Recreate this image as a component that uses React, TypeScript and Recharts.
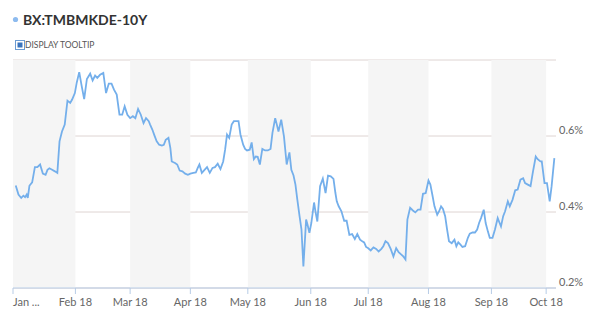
import React from "react";
import {
  LineChart,
  Line,
  XAxis,
  YAxis,
  CartesianGrid,
  ReferenceArea,
} from "recharts";

// x = trading-day index from Jan 2 2018, y = 10Y yield (%)
const tradingDay = [
  0.2, 1.2, 2.2, 3.0, 3.6, 4.2, 4.6, 5.2, 6.2, 7.2, 8.1, 9.1, 10.1, 11.1, 11.8, 12.5, 13.5, 14.5, 15.4, 16.2,
  17.1, 18.1, 19.1, 20.1, 20.8, 21.8, 22.5, 23.4, 24.2, 25.2, 26.2, 27.4, 28.3, 29.2, 30.0, 31.0, 32.2, 33.2,
  34.2, 35.2, 36.1, 37.1, 38.1, 39.1, 40.0, 41.0, 42.0, 43.0, 43.9, 44.9, 45.9, 46.9, 47.8, 48.8, 49.3, 50.1,
  50.9, 51.7, 52.6, 53.6, 54.3, 55.0, 56.0, 56.7, 57.2, 58.4, 59.2, 60.1, 61.1, 62.1, 63.1, 64.0, 65.1, 66.0,
  66.7, 67.3, 68.2, 69.1, 70.1, 71.1, 72.1, 73.0, 74.0, 75.0, 76.0, 76.7, 77.4, 78.2, 79.1, 79.9, 80.8, 81.6,
  82.3, 83.3, 84.0, 84.7, 85.7, 86.4, 87.2, 87.9, 88.6, 89.4, 90.3, 91.3, 92.3, 93.3, 94.0, 95.0, 95.6, 96.2,
  97.2, 98.2, 99.2, 100.2, 100.9, 101.7, 102.4, 103.1, 103.9, 104.6, 105.3, 106.3, 106.8, 107.5, 108.2, 109.2,
  109.7, 110.4, 111.4, 112.4, 113.4, 114.3, 115.3, 116.3, 117.0, 117.5, 118.2, 119.2, 120.2, 121.1, 122.1, 123.1,
  124.1, 125.0, 126.0, 126.8, 127.5, 128.2, 128.9, 129.9, 130.9, 131.9, 132.8, 133.8, 134.5, 135.3, 136.2, 137.2,
  138.2, 139.2, 140.1, 141.1, 141.8, 142.6, 143.3, 144.3, 145.3, 146.2, 147.2, 148.1, 149.0, 150.0, 151.0, 151.7,
  152.4, 153.2, 154.2, 154.9, 155.6, 156.3, 157.1, 157.8, 158.5, 159.5, 160.5, 161.2, 161.9, 162.7, 163.4, 164.4,
  165.4, 166.1, 167.1, 168.0, 168.8, 169.5, 170.2, 171.2, 171.9, 172.7, 173.4, 174.4, 175.3, 176.3, 177.0, 177.5,
  178.3, 179.0, 180.0, 180.7, 181.7, 182.7, 183.6, 184.6, 185.6, 186.3, 187.3, 188.3, 189.2, 190.2, 190.9, 191.9,
  192.4, 193.4, 194.3, 195.3, 196.0, 197.0,
];

const yieldPct = [
  0.470, 0.446, 0.437, 0.443, 0.439, 0.446, 0.437, 0.469, 0.478, 0.518, 0.518, 0.525, 0.501, 0.498, 0.511, 0.515,
  0.511, 0.507, 0.503, 0.586, 0.612, 0.630, 0.693, 0.687, 0.696, 0.713, 0.741, 0.768, 0.735, 0.697, 0.750, 0.764,
  0.746, 0.759, 0.753, 0.761, 0.766, 0.713, 0.738, 0.738, 0.722, 0.709, 0.656, 0.656, 0.678, 0.656, 0.647, 0.652,
  0.647, 0.671, 0.656, 0.634, 0.647, 0.639, 0.630, 0.617, 0.601, 0.586, 0.577, 0.575, 0.577, 0.590, 0.595, 0.568,
  0.533, 0.529, 0.525, 0.509, 0.507, 0.501, 0.498, 0.501, 0.503, 0.504, 0.516, 0.525, 0.503, 0.510, 0.518, 0.503,
  0.516, 0.518, 0.527, 0.513, 0.533, 0.564, 0.604, 0.595, 0.630, 0.639, 0.639, 0.639, 0.604, 0.577, 0.566, 0.562,
  0.564, 0.583, 0.539, 0.546, 0.545, 0.525, 0.566, 0.562, 0.562, 0.566, 0.608, 0.647, 0.630, 0.612, 0.643, 0.599,
  0.525, 0.557, 0.511, 0.496, 0.472, 0.432, 0.389, 0.354, 0.257, 0.380, 0.367, 0.345, 0.371, 0.425, 0.402, 0.375,
  0.468, 0.488, 0.450, 0.496, 0.494, 0.487, 0.450, 0.428, 0.415, 0.402, 0.377, 0.377, 0.340, 0.342, 0.329, 0.342,
  0.327, 0.323, 0.320, 0.308, 0.305, 0.299, 0.307, 0.303, 0.296, 0.303, 0.310, 0.323, 0.318, 0.303, 0.283, 0.305,
  0.294, 0.288, 0.283, 0.275, 0.380, 0.411, 0.404, 0.399, 0.406, 0.406, 0.448, 0.450, 0.483, 0.472, 0.446, 0.415,
  0.393, 0.402, 0.415, 0.408, 0.389, 0.354, 0.323, 0.318, 0.327, 0.310, 0.320, 0.314, 0.308, 0.310, 0.332, 0.343,
  0.346, 0.346, 0.354, 0.371, 0.384, 0.406, 0.371, 0.349, 0.332, 0.332, 0.354, 0.384, 0.371, 0.362, 0.389, 0.402,
  0.428, 0.415, 0.432, 0.457, 0.459, 0.485, 0.489, 0.476, 0.472, 0.468, 0.507, 0.546, 0.539, 0.533, 0.533, 0.476,
  0.476, 0.428, 0.468, 0.542,
];

const monthTicks = [-0.8, 22, 42, 64, 85, 108, 129, 151, 174, 194];
const monthLabels = ["Jan ...", "Feb 18", "Mar 18", "Apr 18", "May 18", "Jun 18", "Jul 18", "Aug 18", "Sep 18", "Oct 18"];
const shadedMonths: [number, number][] = [
  [-0.8, 22],
  [42, 64],
  [85, 108],
  [129, 151],
  [174, 194],
];
const yTicks = [0.2, 0.4, 0.6, 0.8];
const yLabels = ["0.2%", "0.4%", "0.6%", ""];
const seriesName = "BX:TMBMKDE-10Y";
const legendLabel = "DISPLAY TOOLTIP";

const data = tradingDay.map((d, i) => ({ d, v: yieldPct[i] }));

const FONT = "Lato, 'Open Sans', sans-serif";
const LINE = "#74afeb";
const AXIS = "#b7cce6";
const GRID = "#ded4d2";
const BAND = "#f5f5f5";

const XTick = (props: any) => {
  const { x, y, payload, index } = props;
  const i = monthTicks.indexOf(payload.value);
  return (
    <text
      x={x}
      y={y + 10}
      textAnchor={index === 0 ? "start" : "middle"}
      fontSize={11}
      fontFamily={FONT}
      fill="#666"
    >
      {monthLabels[i >= 0 ? i : index]}
    </text>
  );
};

const YTick = (props: any) => {
  const { x, y, payload } = props;
  const i = yTicks.indexOf(payload.value);
  return (
    <text x={x + 3} y={y - 2} textAnchor="start" fontSize={11} fontFamily={FONT} fill="#666">
      {yLabels[i]}
    </text>
  );
};

export default function App() {
  return (
    <div style={{ position: "absolute", left: 0, top: 0, width: 600, height: 325, background: "#fff" }}>
      <svg width={600} height={60} style={{ position: "absolute", left: 0, top: 0 }}>
        <circle cx={15.5} cy={19.5} r={2.6} fill="#8dbbef" />
        <text x={23} y={25} fontSize={14} fontWeight={700} fontFamily={FONT} fill="#333">
          {seriesName}
        </text>
        <rect x={15.5} y={40.5} width={9} height={9} fill="#fff" stroke="#6b9bd2" />
        <rect x={17.5} y={42.5} width={5} height={5} fill="#3a74bd" />
        <text x={25} y={48} fontSize={8.5} fontFamily={FONT} fill="#555">
          {legendLabel}
        </text>
      </svg>
      <div style={{ position: "absolute", left: 0, top: 0 }}>
        <LineChart width={600} height={325} data={data} margin={{ top: 60, right: 0, bottom: 0, left: 13 }}>
          {shadedMonths.map(([a, b], i) => (
            <ReferenceArea key={i} x1={a} x2={b} fill={BAND} fillOpacity={1} stroke="none" ifOverflow="hidden" />
          ))}
          <CartesianGrid vertical={false} stroke={GRID} />
          <XAxis
            dataKey="d"
            type="number"
            domain={[-0.8, 197.6]}
            ticks={monthTicks}
            interval={0}
            allowDataOverflow
            height={37}
            tickSize={6}
            tickMargin={2}
            stroke={AXIS}
            tickLine={{ stroke: AXIS }}
            axisLine={{ stroke: AXIS }}
            tick={<XTick />}
          />
          <YAxis
            orientation="right"
            width={44}
            domain={[0.2, 0.8]}
            ticks={yTicks}
            interval={0}
            axisLine={false}
            tickLine={false}
            tickSize={0}
            tickMargin={0}
            tick={<YTick />}
          />
          <Line
            type="linear"
            dataKey="v"
            stroke={LINE}
            strokeWidth={1.8}
            dot={false}
            isAnimationActive={false}
          />
        </LineChart>
      </div>
    </div>
  );
}
